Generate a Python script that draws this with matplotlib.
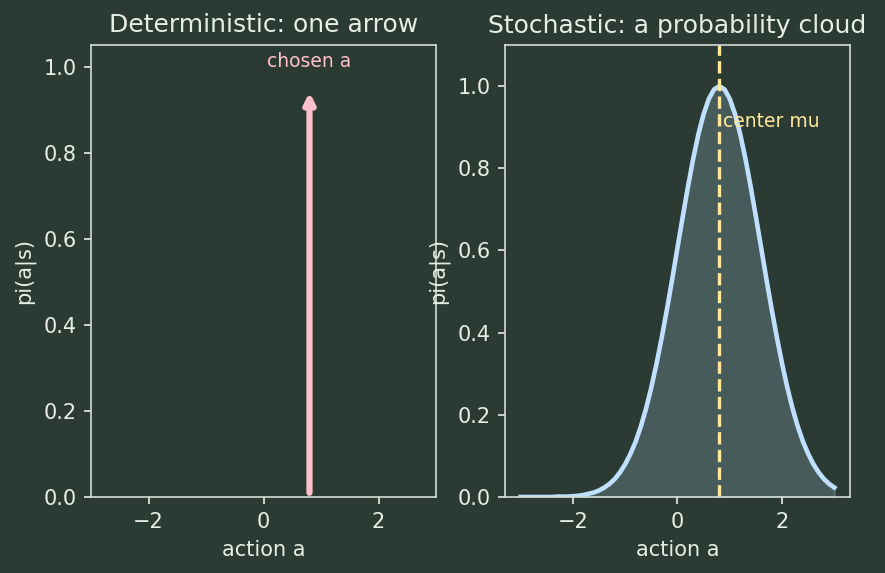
import matplotlib
matplotlib.use('Agg')
import matplotlib.pyplot as plt
import numpy as np

# valores
mu = 0.8
seta_topo = 0.95
acoes = np.round(np.linspace(-3, 3, 61), 1)
pi_estocastica = [0.000, 0.000, 0.000, 0.000, 0.000, 0.000, 0.000, 0.001, 0.001, 0.001,
                  0.002, 0.003, 0.005, 0.008, 0.011, 0.016, 0.023, 0.032, 0.044, 0.060,
                  0.080, 0.105, 0.135, 0.172, 0.216, 0.267, 0.325, 0.389, 0.458, 0.531,
                  0.607, 0.682, 0.755, 0.823, 0.883, 0.932, 0.969, 0.992, 1.000,
                  0.992, 0.969, 0.932, 0.883, 0.823, 0.755, 0.682, 0.607, 0.531, 0.458,
                  0.389, 0.325, 0.267, 0.216, 0.172, 0.135, 0.105, 0.080, 0.060, 0.044,
                  0.032, 0.023]

fundo = '#2b3b33'
claro = '#e6eee6'
plt.rcParams['text.color'] = claro
plt.rcParams['axes.labelcolor'] = claro
plt.rcParams['xtick.color'] = claro
plt.rcParams['ytick.color'] = claro
plt.rcParams['axes.edgecolor'] = '#d5ddd5'

dpi = 150
fig, (ax1, ax2) = plt.subplots(1, 2, figsize=(885/dpi, 573/dpi), dpi=dpi)
fig.patch.set_facecolor(fundo)
fig.subplots_adjust(left=91/885, right=850/885, bottom=1-497/573, top=1-45/573, wspace=0.2)

for ax in (ax1, ax2):
    ax.set_facecolor(fundo)

# deterministica
ax1.annotate('', xy=(mu, seta_topo), xytext=(mu, 0),
             arrowprops=dict(arrowstyle='->', lw=3, color='pink'))
ax1.text(mu, 0.99, 'chosen a', ha='center', va='bottom', fontsize=9, color='pink')
ax1.set_xlim(-3, 3)
ax1.set_ylim(0, 1.05)
ax1.set_title('Deterministic: one arrow', fontsize=12)
ax1.set_xlabel('action a')
ax1.set_ylabel('pi(a|s)')

# estocastica
ax2.plot(acoes, pi_estocastica, color='#bfe0ff', lw=2.2)
ax2.fill_between(acoes, pi_estocastica, color='#bfe0ff', alpha=0.2)
ax2.axvline(mu, color='#ffe89a', ls='--', lw=1.6)
ax2.text(mu + 0.08, 0.9, 'center mu', fontsize=9, color='#ffe89a')
ax2.set_ylim(0, 1.1)
ax2.set_title('Stochastic: a probability cloud', fontsize=12)
ax2.set_xlabel('action a')
ax2.set_ylabel('pi(a|s)')

plt.savefig('out.png', dpi=dpi, facecolor=fundo)
